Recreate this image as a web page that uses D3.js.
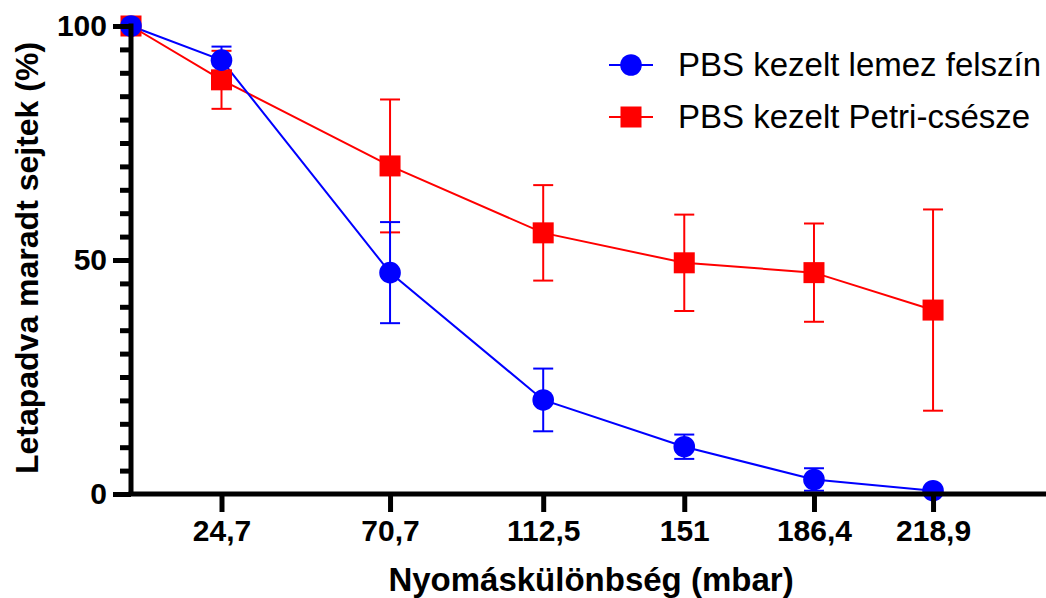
<!DOCTYPE html>
<html>
<head>
<meta charset="utf-8">
<script src="https://cdn.jsdelivr.net/npm/d3@7"></script>
<style>
  html, body { margin: 0; padding: 0; background: #fff; }
  svg { display: block; }
  text { font-family: "Liberation Sans", Arial, Helvetica, sans-serif; }
</style>
</head>
<body>
<svg id="chart" width="1046" height="598"></svg>
<script>
// Pressure difference (mbar) at each measurement
const pressure = [0, 24.7, 70.7, 112.5, 151, 186.4, 218.9];
const xTickLabels = ["24,7", "70,7", "112,5", "151", "186,4", "218,9"];

// Adherent cells remaining (%), mean and SD
const plateMean = [100, 92.7, 47.3, 20.1, 10.1, 3.1, 0.7];
const plateSD   = [0, 2.9, 10.8, 6.7, 2.6, 2.4, 0];
const dishMean  = [100, 88.5, 70.1, 55.8, 49.4, 47.3, 39.3];
const dishSD    = [0, 6.2, 14.2, 10.2, 10.3, 10.5, 21.5];

const yMajorTicks = [0, 50, 100];
const yMinorTicks = d3.range(0, 101, 5).filter(v => v % 50 !== 0);

const seriesNames = ["PBS kezelt lemez felszín", "PBS kezelt Petri-csésze"];
const xTitle = "Nyomáskülönbség (mbar)";
const yTitle = "Letapadva maradt sejtek (%)";

const svg = d3.select("#chart");

const x = d3.scaleLinear().domain([0, 250]).range([131, 1047]);
const y = d3.scaleLinear().domain([0, 100]).range([494, 26]);

const series = [
  { name: seriesNames[1], mean: dishMean, sd: dishSD, color: "#ff0000", shape: "square" },
  { name: seriesNames[0], mean: plateMean, sd: plateSD, color: "#0000ff", shape: "circle" }
];

// Connecting lines
const line = d3.line().x(d => x(d.x)).y(d => y(d.y));
series.forEach(s => {
  const pts = pressure.map((p, i) => ({ x: p, y: s.mean[i], sd: s.sd[i] }));
  s.pts = pts;
  svg.append("path")
    .datum(pts)
    .attr("d", line)
    .attr("fill", "none")
    .attr("stroke", s.color)
    .attr("stroke-width", 2);
});

// Error bars (SD) with caps
series.forEach(s => {
  const g = svg.append("g").attr("stroke", s.color).attr("stroke-width", 2);
  s.pts.filter(d => d.sd > 0).forEach(d => {
    const cx = x(d.x);
    g.append("line").attr("x1", cx).attr("x2", cx)
      .attr("y1", y(d.y + d.sd)).attr("y2", y(d.y - d.sd));
    [d.y + d.sd, d.y - d.sd].forEach(v => {
      g.append("line").attr("x1", cx - 10).attr("x2", cx + 10)
        .attr("y1", y(v)).attr("y2", y(v));
    });
  });
});

// Markers
function drawMarker(sel, shape, color, cx, cy) {
  if (shape === "circle") {
    sel.append("circle").attr("cx", cx).attr("cy", cy).attr("r", 10.8).attr("fill", color);
  } else {
    sel.append("rect").attr("x", cx - 10.5).attr("y", cy - 10.5)
      .attr("width", 21).attr("height", 21).attr("fill", color);
  }
}
series.forEach(s => {
  const g = svg.append("g");
  s.pts.forEach(d => drawMarker(g, s.shape, s.color, x(d.x), y(d.y)));
});

// Y axis: minor ticks, major ticks with labels
const yMinor = svg.append("g").attr("transform", `translate(${x(0)},0)`)
  .call(d3.axisLeft(y).tickValues(yMinorTicks).tickSize(11).tickFormat(""));
const yMajor = svg.append("g").attr("transform", `translate(${x(0)},0)`)
  .call(d3.axisLeft(y).tickValues(yMajorTicks).tickSize(18).tickPadding(6).tickFormat(d3.format("d")));
[yMinor, yMajor].forEach(g => {
  g.select(".domain").remove();
  g.selectAll(".tick line").attr("stroke", "#000").attr("stroke-width", 5);
});
yMajor.selectAll(".tick text")
  .attr("fill", "#000").attr("font-size", 30).attr("font-weight", "bold")
  .attr("font-family", "'Liberation Sans', Arial, sans-serif");

// X axis
const xAxis = svg.append("g").attr("transform", `translate(0,${y(0)})`)
  .call(d3.axisBottom(x).tickValues(pressure.slice(1)).tickSize(18).tickPadding(8)
    .tickFormat((d, i) => xTickLabels[i]));
xAxis.select(".domain").remove();
xAxis.selectAll(".tick line").attr("stroke", "#000").attr("stroke-width", 5);
xAxis.selectAll(".tick text")
  .attr("fill", "#000").attr("font-size", 30).attr("font-weight", "bold")
  .attr("font-family", "'Liberation Sans', Arial, sans-serif");

// Axis lines
svg.append("line")
  .attr("x1", x(0) - 2.5).attr("x2", x(250))
  .attr("y1", y(0)).attr("y2", y(0))
  .attr("stroke", "#000").attr("stroke-width", 5);
svg.append("line")
  .attr("x1", x(0)).attr("x2", x(0))
  .attr("y1", y(100) - 2.5).attr("y2", y(0))
  .attr("stroke", "#000").attr("stroke-width", 5);

// Axis titles
svg.append("text")
  .attr("x", 591).attr("y", 591)
  .attr("text-anchor", "middle")
  .attr("font-size", 33).attr("font-weight", "bold")
  .text(xTitle);
svg.append("text")
  .attr("transform", `translate(38,258) rotate(-90)`)
  .attr("text-anchor", "middle")
  .attr("font-size", 32).attr("font-weight", "bold")
  .text(yTitle);

// Legend
const legendRows = [series[1], series[0]];
legendRows.forEach((s, i) => {
  const ly = 65 + i * 52;
  const g = svg.append("g");
  g.append("line").attr("x1", 609).attr("x2", 653).attr("y1", ly).attr("y2", ly)
    .attr("stroke", s.color).attr("stroke-width", 2);
  drawMarker(g, s.shape, s.color, 631, ly);
  g.append("text").attr("x", 678).attr("y", ly + 11)
    .attr("font-size", 33).attr("fill", "#000")
    .text(s.name);
});
</script>
</body>
</html>
